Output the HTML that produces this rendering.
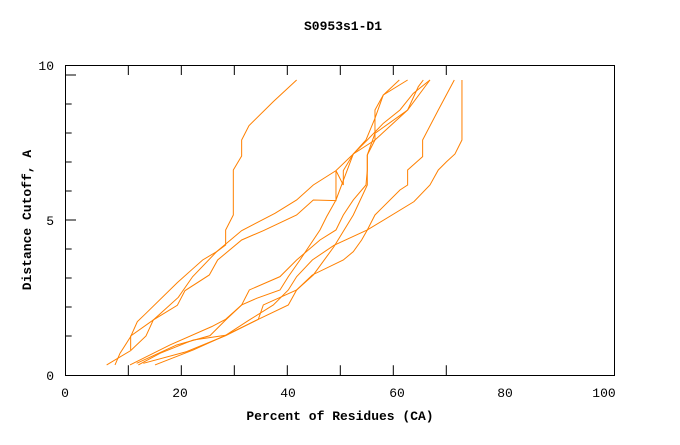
<!DOCTYPE html>
<html><head><style>body{margin:0;background:#fff}</style></head><body>
<svg width="680" height="440" xmlns="http://www.w3.org/2000/svg" font-family="Liberation Mono, monospace">
<rect width="680" height="440" fill="#fff"/>
<text x="343" y="30" text-anchor="middle" font-size="13" font-weight="bold">S0953s1-D1</text>
<text x="340" y="420" text-anchor="middle" font-size="13" font-weight="bold">Percent of Residues (CA)</text>
<text transform="translate(31,220) rotate(-90)" text-anchor="middle" font-size="13" font-weight="bold">Distance Cutoff, A</text>
<g font-size="13" text-anchor="middle">
<text x="65" y="397">0</text><text x="180" y="397">20</text><text x="288" y="397">40</text><text x="397" y="397">60</text><text x="505" y="397">80</text><text x="604" y="397">100</text>
</g>
<g font-size="13" text-anchor="end">
<text x="54" y="70">10</text><text x="54" y="225">5</text><text x="54" y="380">0</text>
</g>
<rect x="65.5" y="65.5" width="549" height="310" fill="none" stroke="#000" stroke-width="1"/>
<g transform="translate(60,60) scale(0.3333)" stroke="#000" stroke-width="3" fill="none">
<path d="M15,45h33M15,132h20M15,219h20M15,306h20M15,393h20M15,480h33M15,567h20M15,654h20M15,741h20M15,828h20"/>
<path d="M205,946v-30M364,946v-30M523,946v-30M682,946v-30M841,946v-30M1000,946v-30M1159,946v-30M205,15v30M364,15v30M523,15v30M682,15v30M841,15v30M1000,15v30M1159,15v30"/>
</g>
<g transform="translate(60,60) scale(0.3333)" stroke="#ff8000" stroke-width="3" fill="none">
<polyline points="165,915 180,880 212,830 232,785 258,760 352,668 400,625 428,600 470,575 497,555 497,510 520,465 520,330 545,288 545,240 567,197 640,125 710,60"/>
<polyline points="140,915 212,872 258,828 280,780 355,712 398,650 470,575 545,512 645,460 710,420 760,375 828,332 880,282 918,240 945,175 970,105 1018,60"/>
<polyline points="212,870 212,828 280,780 352,736 375,692 448,645 473,600 545,540 610,512 710,465 760,420 828,422 828,332 850,375 850,332 880,282 945,240 1043,150 1110,60"/>
<polyline points="210,915 330,855 455,800 497,778 545,735 568,690 660,650 710,600 780,540 828,510 850,465 880,420 918,375 922,330 922,285 945,240 945,150 970,105 1043,60"/>
<polyline points="235,915 300,880 400,840 497,826 595,778 685,735 710,690 757,645 850,600 880,575 905,540 922,510 945,465 1020,390 1043,375 1043,330 1088,290 1088,240 1135,150 1183,60"/>
<polyline points="285,915 400,870 497,826 568,780 640,735 685,690 710,650 757,600 822,556 922,510 1062,425 1110,375 1135,330 1160,305 1185,282 1206,240 1206,60"/>
<polyline points="230,910 350,855 450,827 497,780 545,735 590,715 660,690 685,650 720,600 780,510 800,470 828,420 880,282 922,240 970,190 1020,150 1060,100 1110,60"/>
<polyline points="250,910 380,875 497,827 595,778 610,735 710,690 760,645 822,560 880,465 922,375 922,285 945,220 1043,150 1075,80 1090,60"/>
</g>
</svg>
</body></html>
